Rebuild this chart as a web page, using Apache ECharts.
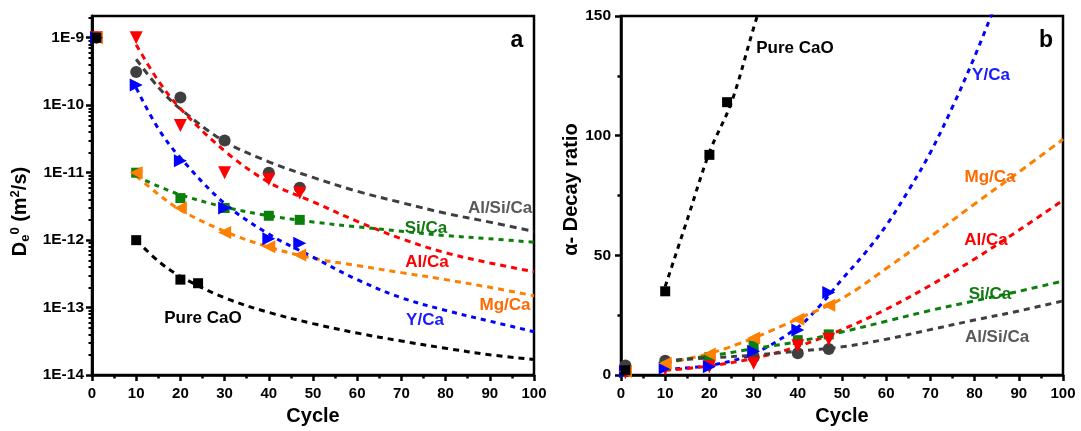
<!DOCTYPE html>
<html>
<head>
<meta charset="utf-8">
<script src="https://cdn.jsdelivr.net/npm/echarts@6/dist/echarts.min.js"></script>
<style>
  html, body { margin: 0; padding: 0; background: #fff; }
  #chart { width: 1081px; height: 431px; }
</style>
</head>
<body>
<div id="chart"></div>
<script>
// ---------- Panel a: effective diffusivity De0 (m2/s) against cycle number ----------
const cyclesPure = [1, 10, 20, 24];
const cyclesDoped = [1, 10, 20, 30, 40, 47];

const dePureCaO = [1e-9, 1.0e-12, 2.6e-13, 2.3e-13];
const deAlSiCa  = [1e-9, 3.1e-10, 1.3e-10, 3.0e-11, 1.0e-11, 6.0e-12];
const deAlCa    = [1e-9, 1.0e-9, 5.0e-11, 1.0e-11, 8.0e-12, 5.0e-12];
const deSiCa    = [1e-9, 1.0e-11, 4.2e-12, 3.0e-12, 2.3e-12, 2.0e-12];
const deMgCa    = [1e-9, 1.0e-11, 3.0e-12, 1.3e-12, 8.0e-13, 6.0e-13];
const deYCa     = [1e-9, 2.0e-10, 1.5e-11, 3.0e-12, 1.05e-12, 9.0e-13];

// fitted trend lines (panel a)
const fitCyclesA   = [10, 15, 20, 30, 40, 50, 60, 70, 80, 90, 100];
const fitDePureCaO = [1.0e-12, 4.9e-13, 2.9e-13, 1.4e-13, 8.5e-14, 5.8e-14, 4.2e-14, 3.2e-14, 2.5e-14, 2.0e-14, 1.7e-14];
const fitDeAlSiCa  = [4.8e-10, 1.85e-10, 8.8e-11, 2.9e-11, 1.45e-11, 8.5e-12, 5.3e-12, 3.6e-12, 2.5e-12, 1.85e-12, 1.35e-12];
const fitDeAlCa    = [7.9e-10, 2.3e-10, 8.9e-11, 2.1e-11, 7.2e-12, 3.7e-12, 1.9e-12, 1.05e-12, 6.5e-13, 4.6e-13, 3.4e-13];
const fitDeSiCa    = [8.9e-12, 6.3e-12, 4.7e-12, 3.1e-12, 2.3e-12, 1.86e-12, 1.58e-12, 1.35e-12, 1.17e-12, 1.05e-12, 9.3e-13];
const fitDeMgCa    = [8.9e-12, 4.8e-12, 2.8e-12, 1.35e-12, 7.9e-13, 5.4e-13, 4.2e-13, 3.3e-13, 2.6e-13, 2.0e-13, 1.5e-13];
const fitDeYCa     = [1.8e-10, 4.5e-11, 1.66e-11, 3.5e-12, 1.23e-12, 5.6e-13, 2.6e-13, 1.4e-13, 9.1e-14, 6.3e-14, 4.4e-14];

const deTickExponents = [-14, -13, -12, -11, -10, -9];
const deAxisMin = 1e-14;
const deAxisMax = 2.1e-9;

// ---------- Panel b: alpha-decay ratio against cycle number ----------
const ratioPureCaO = [2, 35, 92, 114];
const ratioAlSiCa  = [4, 6, 7.2, 7.5, 9.1, 10.9];
const ratioAlCa    = [1, 2.5, 3.5, 5, 12.3, 15];
const ratioSiCa    = [1.5, 4, 7.5, 12.3, 14.6, 17];
const ratioMgCa    = [1.5, 5, 8.8, 15.5, 23.3, 29.2];
const ratioYCa     = [1.5, 3, 3.5, 10, 18.8, 34.5];

// fitted trend lines (panel b)
const fitCyclesPureB = [10, 15, 20, 25, 30, 33];
const fitRatioPureCaO = [37, 65, 93, 114, 145, 163];
const fitCyclesYB = [10, 20, 30, 40, 45, 50, 55, 60, 65, 70, 75, 80, 85];
const fitRatioYCa = [2.5, 4, 9, 20, 29, 40, 50.5, 62.5, 77, 93, 112, 133, 156];
const fitCyclesB = [10, 20, 30, 40, 50, 60, 70, 80, 90, 100];
const fitRatioMgCa   = [5, 9, 15.5, 23.5, 32, 44.5, 57.8, 71.5, 84.8, 98.5];
const fitRatioAlCa   = [2, 3.8, 7, 12, 19, 27.5, 37.5, 48.5, 60.5, 73];
const fitRatioSiCa   = [5.5, 8, 11, 14, 18, 22.5, 27, 31, 35, 39.3];
const fitRatioAlSiCa = [6, 7.2, 8.3, 10, 11.8, 15, 19, 23, 26.8, 31];

// ---------- styling ----------
const FONT = '"Liberation Sans", Arial, Helvetica, sans-serif';
const C = {
  pure: '#000000',
  alsi: '#3f3f3f',
  al: '#ff0000',
  si: '#0a800a',
  mg: '#ff8000',
  y: '#0000ff'
};
const TEXT_C = {
  pure: '#000000', alsi: '#595959', al: '#ff0000', si: '#107a10', mg: '#ff6a00', y: '#1a1aff'
};
const SIZE = { circle: 12, triangle: 13, rect: 10 };

const zip = (xs, ys) => xs.map((x, i) => [x, ys[i]]);

function markers(name, xs, ys, color, symbol, rotate, xi, yi, z) {
  return {
    name, type: 'scatter', xAxisIndex: xi, yAxisIndex: yi,
    data: zip(xs, ys), symbol, symbolSize: SIZE[symbol], symbolRotate: rotate,
    itemStyle: { color, opacity: 1 }, z: z, silent: true
  };
}
function trend(name, xs, ys, color, xi, yi, dash) {
  return {
    name, type: 'line', xAxisIndex: xi, yAxisIndex: yi,
    data: zip(xs, ys), showSymbol: false, symbol: 'none', smooth: 0.35,
    lineStyle: { color, width: 3, type: dash || [6, 4] }, z: 2, silent: true, clip: true
  };
}

const logMin = Math.log10(deAxisMin), logMax = Math.log10(deAxisMax);
const minorLogTicks = [];
for (let d = -14; d < -9; d++) for (let k = 2; k <= 9; k++) minorLogTicks.push(d + Math.log10(k));
minorLogTicks.push(-9 + Math.log10(2));

const axisLineStyle = { color: '#000', width: 2.5 };
const labelStyle = (size) => ({ color: '#000', fontFamily: FONT, fontWeight: 'bold', fontSize: size });

const xAxisCommon = (gi) => ({
  gridIndex: gi, type: 'value', min: 0, max: 100, interval: 10, position: 'bottom',
  axisLine: { show: true, lineStyle: axisLineStyle },
  axisTick: { show: true, length: 6, lineStyle: { color: '#000', width: 2.5 } },
  minorTick: { show: true, splitNumber: 2, length: 3.5, lineStyle: { color: '#000', width: 2.5 } },
  axisLabel: Object.assign(labelStyle(15), { margin: 11 }),
  splitLine: { show: false }, minorSplitLine: { show: false },
  name: 'Cycle', nameLocation: 'middle', nameGap: 29,
  nameTextStyle: labelStyle(20)
});

const chart = echarts.init(document.getElementById('chart'), null, { renderer: 'canvas' });

chart.setOption({
  animation: false,
  backgroundColor: '#fff',
  grid: [
    { left: 92, top: 16, width: 442, height: 361, show: true, borderColor: '#000', borderWidth: 2.5, containLabel: false },
    { left: 621, top: 16, width: 442, height: 362, show: true, borderColor: '#000', borderWidth: 2.5, containLabel: false }
  ],
  xAxis: [xAxisCommon(0), xAxisCommon(1)],
  yAxis: [
    // data scale of panel a (logarithmic)
    { gridIndex: 0, type: 'log', logBase: 10, min: deAxisMin, max: deAxisMax, position: 'left', show: false },
    // minor (2..9) ticks of panel a
    {
      gridIndex: 0, type: 'value', min: logMin, max: logMax, position: 'left', offset: 0,
      axisLine: { show: true, lineStyle: axisLineStyle },
      axisTick: { show: true, customValues: minorLogTicks, length: 3.5, lineStyle: { color: '#000', width: 2 } },
      axisLabel: { show: false }, splitLine: { show: false }
    },
    // decade labels and major ticks of panel a
    {
      gridIndex: 0, type: 'value', min: logMin, max: logMax, position: 'left', offset: 0,
      axisLine: { show: true, lineStyle: axisLineStyle },
      axisTick: { show: true, customValues: deTickExponents, length: 6, lineStyle: { color: '#000', width: 2.5 } },
      axisLabel: Object.assign(labelStyle(15.5), { customValues: deTickExponents, margin: 8, formatter: v => '1E' + v }),
      splitLine: { show: false },
      name: '{m|D}{sub|e}{sup|0}{m| (m}{sup|2}{m|/s)}',
      nameLocation: 'middle', nameGap: 58, nameRotate: 90,
      nameTextStyle: {
        padding: [0, 32, 0, 0],
        rich: {
          m: { fontFamily: FONT, fontWeight: 'bold', fontSize: 20, color: '#000', lineHeight: 28, verticalAlign: 'middle' },
          sub: { fontFamily: FONT, fontWeight: 'bold', fontSize: 13, color: '#000', lineHeight: 28, verticalAlign: 'bottom', padding: [0, 0, 2, 0] },
          sup: { fontFamily: FONT, fontWeight: 'bold', fontSize: 13, color: '#000', lineHeight: 28, verticalAlign: 'top', padding: [3, 0, 0, 0] }
        }
      }
    },
    // panel b
    {
      gridIndex: 1, type: 'value', min: 0, max: 150, interval: 50, position: 'left',
      axisLine: { show: true, lineStyle: axisLineStyle },
      axisTick: { show: true, length: 6, lineStyle: { color: '#000', width: 2.5 } },
      minorTick: { show: true, splitNumber: 2, length: 3.5, lineStyle: { color: '#000', width: 2.5 } },
      axisLabel: Object.assign(labelStyle(15.5), { margin: 10 }),
      splitLine: { show: false }, minorSplitLine: { show: false },
      name: 'α- Decay ratio', nameLocation: 'middle', nameGap: 38, nameRotate: 90,
      nameTextStyle: Object.assign(labelStyle(20), { padding: [0, 0, 0, 12] })
    }
  ],
  series: [
    // panel a trend lines
    trend('Al/Si/Ca fit', fitCyclesA, fitDeAlSiCa, C.alsi, 0, 0, [7, 5]),
    trend('Al/Ca fit', fitCyclesA, fitDeAlCa, C.al, 0, 0, [6, 5]),
    trend('Si/Ca fit', fitCyclesA, fitDeSiCa, C.si, 0, 0, [5, 5]),
    trend('Mg/Ca fit', fitCyclesA, fitDeMgCa, C.mg, 0, 0, [6, 5]),
    trend('Y/Ca fit', fitCyclesA, fitDeYCa, C.y, 0, 0, [5, 5]),
    trend('Pure CaO fit', fitCyclesA, fitDePureCaO, C.pure, 0, 0, [6, 5]),
    // panel a markers
    markers('Al/Si/Ca', cyclesDoped, deAlSiCa, C.alsi, 'circle', 0, 0, 0, 4),
    markers('Al/Ca', cyclesDoped, deAlCa, C.al, 'triangle', 180, 0, 0, 5),
    markers('Si/Ca', cyclesDoped, deSiCa, C.si, 'rect', 0, 0, 0, 5),
    markers('Mg/Ca', cyclesDoped, deMgCa, C.mg, 'triangle', 90, 0, 0, 6),
    markers('Y/Ca', cyclesDoped, deYCa, C.y, 'triangle', -90, 0, 0, 6),
    markers('Pure CaO', cyclesPure, dePureCaO, C.pure, 'rect', 0, 0, 0, 7),

    // panel b trend lines
    trend('Pure CaO fit b', fitCyclesPureB, fitRatioPureCaO, C.pure, 1, 3, [5, 5]),
    trend('Y/Ca fit b', fitCyclesYB, fitRatioYCa, C.y, 1, 3, [5, 5]),
    trend('Mg/Ca fit b', fitCyclesB, fitRatioMgCa, C.mg, 1, 3, [7, 5]),
    trend('Al/Ca fit b', fitCyclesB, fitRatioAlCa, C.al, 1, 3, [6, 5]),
    trend('Si/Ca fit b', fitCyclesB, fitRatioSiCa, C.si, 1, 3, [6, 5]),
    trend('Al/Si/Ca fit b', fitCyclesB, fitRatioAlSiCa, C.alsi, 1, 3, [6, 5]),
    // panel b markers
    markers('Al/Si/Ca b', cyclesDoped, ratioAlSiCa, C.alsi, 'circle', 0, 1, 3, 4),
    markers('Si/Ca b', cyclesDoped, ratioSiCa, C.si, 'rect', 0, 1, 3, 5),
    markers('Al/Ca b', cyclesDoped, ratioAlCa, C.al, 'triangle', 180, 1, 3, 5),
    markers('Y/Ca b', cyclesDoped, ratioYCa, C.y, 'triangle', -90, 1, 3, 6),
    markers('Mg/Ca b', cyclesDoped, ratioMgCa, C.mg, 'triangle', 90, 1, 3, 6),
    markers('Pure CaO b', cyclesPure, ratioPureCaO, C.pure, 'rect', 0, 1, 3, 7)
  ],
  graphic: [
    ['Al/Si/Ca', 500, 208, TEXT_C.alsi],
    ['Si/Ca', 426, 228, TEXT_C.si],
    ['Al/Ca', 427, 262, TEXT_C.al],
    ['Mg/Ca', 505, 305, TEXT_C.mg],
    ['Y/Ca', 425, 320, TEXT_C.y],
    ['Pure CaO', 203, 318, TEXT_C.pure],
    ['Pure CaO', 795, 48, TEXT_C.pure],
    ['Y/Ca', 991, 75, TEXT_C.y],
    ['Mg/Ca', 990, 177, TEXT_C.mg],
    ['Al/Ca', 986, 240, TEXT_C.al],
    ['Si/Ca', 990, 294, TEXT_C.si],
    ['Al/Si/Ca', 997, 337, TEXT_C.alsi]
  ].map(([text, x, y, fill]) => ({
    type: 'text', x, y, z: 100, silent: true,
    style: { text, fill, font: 'bold 17px ' + FONT, textAlign: 'center', textVerticalAlign: 'middle' }
  })).concat([
    { type: 'text', x: 517, y: 41, z: 100, silent: true,
      style: { text: 'a', fill: '#000', font: 'bold 23px ' + FONT, textAlign: 'center', textVerticalAlign: 'middle' } },
    { type: 'text', x: 1046, y: 41, z: 100, silent: true,
      style: { text: 'b', fill: '#000', font: 'bold 23px ' + FONT, textAlign: 'center', textVerticalAlign: 'middle' } }
  ])
});
</script>
</body>
</html>
